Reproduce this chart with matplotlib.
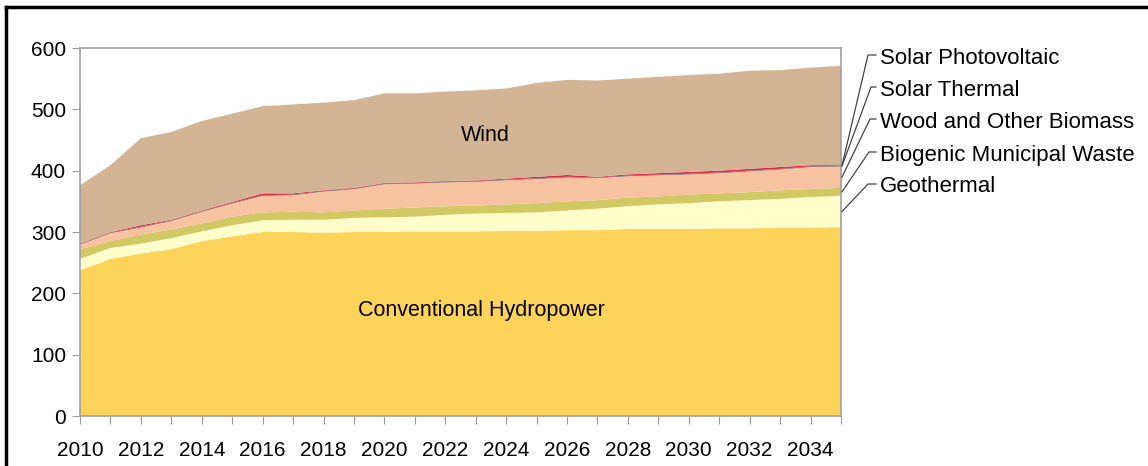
import matplotlib.pyplot as plt
from matplotlib.lines import Line2D
import numpy as np

plt.rcParams['font.family'] = ['Liberation Sans', 'DejaVu Sans']

# Данные (сводные значения, читаются с картинки)
years = list(range(2010, 2036))
hydro = [238, 256, 265, 272, 285, 293, 300, 300, 299, 300, 300, 301, 301,
         301, 302, 302, 303, 303, 305, 305, 305, 306, 306, 307, 307, 308]
geo_top = [256, 274, 281, 290, 301, 311, 319, 320, 320, 323, 324, 325, 328,
           330, 331, 332, 335, 338, 342, 345, 347, 350, 352, 354, 357, 359]
msw_top = [272, 285, 296, 304, 314, 325, 332, 333, 332, 335, 338, 340, 342,
           343, 345, 347, 350, 352, 356, 358, 361, 363, 365, 368, 370, 372]
solar_top = [281, 300, 311, 320, 335, 349, 363, 363, 368, 372, 380, 381, 383,
             384, 387, 390, 393, 390, 394, 396, 398, 400, 403, 406, 409, 409]
wind_top = [376, 409, 453, 463, 481, 493, 505, 508, 511, 515, 526, 526, 529,
            531, 534, 543, 548, 547, 550, 553, 556, 558, 563, 564, 568, 571]
solar_thermal = [1.0] * 26
solar_pv = [0.5, 0.8, 2.5, 1, 1, 1.5, 3, 2, 1, 1, 1, 1, 1, 1, 1.5, 2.5, 3, 1,
            2, 2.5, 3, 3, 3, 3, 2, 1]

hydro = np.array(hydro, dtype=float)
geothermal = np.array(geo_top) - hydro
msw = np.array(msw_top) - np.array(geo_top)
wood = np.array(solar_top) - np.array(msw_top) - np.array(solar_thermal) - np.array(solar_pv)
wind = np.array(wind_top) - np.array(solar_top)

layers = [hydro, geothermal, msw, wood, np.array(solar_thermal), np.array(solar_pv), wind]
names = ['Conventional Hydropower', 'Geothermal', 'Biogenic Municipal Waste',
         'Wood and Other Biomass', 'Solar Thermal', 'Solar Photovoltaic', 'Wind']
colors = ['#FDD35A', '#FFFFCC', '#D3C964', '#F8C3A2', '#6E5252', '#D9304A', '#D3B595']

W, H = 1148, 466
fig = plt.figure(figsize=(W / 100, H / 100), dpi=100)
ax = fig.add_axes([80 / W, 1 - 416 / H, (841 - 80) / W, (416 - 48) / H])

ax.stackplot(years, *layers, colors=colors, linewidth=0)

ax.set_xlim(2010, 2035)
ax.set_ylim(0, 600)
ax.set_xticks(range(2010, 2036))
ax.set_xticklabels([str(y) if y % 2 == 0 else '' for y in range(2010, 2036)])
ax.set_yticks(range(0, 601, 100))
ax.tick_params(axis='both', labelsize=15, colors='#999999', labelcolor='black')
ax.tick_params(axis='x', length=6, pad=12)
ax.tick_params(axis='y', length=6, pad=4)
for s in ax.spines.values():
    s.set_color('#A0A0A0')
    s.set_linewidth(1.2)

# подписи внутри областей
ax.text(2023.3, 458, 'Wind', fontsize=15.5, ha='center', va='center')
ax.text(2023.2, 172, 'Conventional Hydropower', fontsize=15.5, ha='center', va='center')

# подписи справа с выносками
cum = np.cumsum(np.vstack(layers), axis=0)
last = {n: (cum[i, -1] - layers[i][-1] / 2) for i, n in enumerate(names)}
right_labels = ['Solar Photovoltaic', 'Solar Thermal', 'Wood and Other Biomass',
                'Biogenic Municipal Waste', 'Geothermal']
label_y = [58, 90, 122, 155, 187]
elbow_x = [868, 871, 870, 869, 868]
for name, py, ex in zip(right_labels, label_y, elbow_x):
    fig.text(880 / W, 1 - py / H, name, fontsize=16, ha='left', va='center')
    px, pyy = ax.transData.transform((2035, last[name]))
    ey = H - py + 3
    xs = [876 / W, ex / W, (px + 1) / W]
    ys = [ey / H, ey / H, pyy / H]
    fig.add_artist(Line2D(xs, ys, color='#444444', linewidth=0.9))

# рамка
fig.add_artist(Line2D([6 / W, 6 / W], [0, 1 - 7 / H], color='black', linewidth=2.5))
fig.add_artist(Line2D([6 / W, 1], [1 - 7 / H, 1 - 7 / H], color='black', linewidth=2.5))

fig.savefig('out.png', dpi=100)
